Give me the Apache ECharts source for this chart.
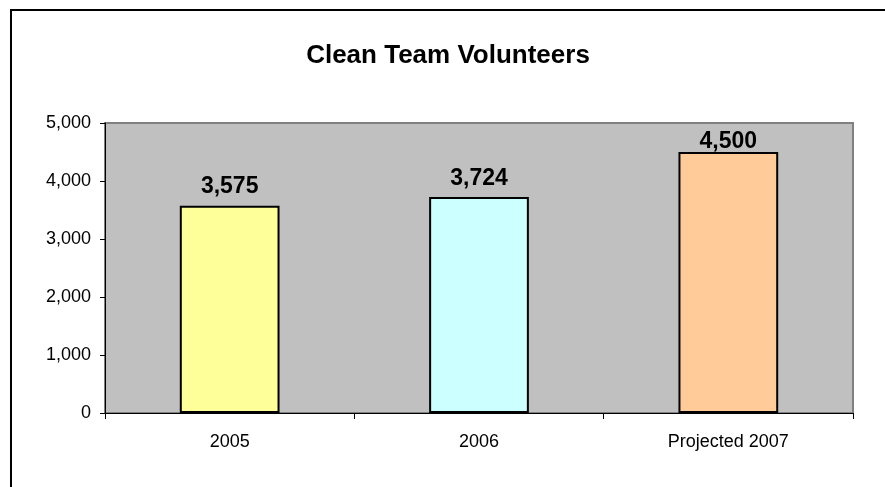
<!DOCTYPE html>
<html>
<head>
<meta charset="utf-8">
<script src="https://cdn.jsdelivr.net/npm/echarts@6/dist/echarts.min.js"></script>
<style>
    html, body { margin: 0; padding: 0; background: #fff; }
    #wrap { position: relative; width: 885px; height: 487px; overflow: hidden; }
    #chart { position: absolute; left: 0; top: 0; width: 885px; height: 487px; }
    #frame {
        position: absolute; left: 10px; top: 9px; width: 900px; height: 500px;
        border-left: 2px solid #000; border-top: 2px solid #000; pointer-events: none;
    }
</style>
</head>
<body>
<div id="wrap">
    <div id="chart"></div>
    <div id="frame"></div>
</div>
<script>
// chart data
var categories = ['2005', '2006', 'Projected 2007'];
var volunteers = [3575, 3724, 4500];
var barColors = ['#FFFF99', '#CCFFFF', '#FFCC99'];
var labelGaps = [7, 7, -1];

var FONT = '"Liberation Sans", Arial, sans-serif';

var chart = echarts.init(document.getElementById('chart'));

var barData = volunteers.map(function (v, i) {
    return {
        value: v,
        itemStyle: { color: barColors[i] },
        label: { distance: labelGaps[i] }
    };
});

var option = {
    animation: false,
    title: {
        text: 'Clean Team Volunteers',
        left: 443,
        top: 38,
        textAlign: 'center',
        textStyle: { fontFamily: FONT, fontSize: 26, fontWeight: 'bold', color: '#000' }
    },
    grid: {
        show: true,
        left: 105,
        right: 32,
        top: 123,
        bottom: 74,
        backgroundColor: '#C0C0C0',
        borderColor: '#808080',
        borderWidth: 2
    },
    xAxis: {
        type: 'category',
        data: categories,
        axisLine: { lineStyle: { color: '#000', width: 1 } },
        axisTick: { show: true, length: 6, alignWithLabel: false, lineStyle: { color: '#000' } },
        axisLabel: { fontFamily: FONT, fontSize: 18, color: '#000', margin: 20 },
        splitLine: { show: false }
    },
    yAxis: {
        type: 'value',
        min: 0,
        max: 5000,
        interval: 1000,
        axisLine: { show: true, lineStyle: { color: '#000', width: 1 } },
        axisTick: { show: true, length: 5, lineStyle: { color: '#000' } },
        axisLabel: {
            fontFamily: FONT, fontSize: 18, color: '#000', margin: 14,
            formatter: function (v) { return v.toLocaleString('en-US'); }
        },
        splitLine: { show: false }
    },
    series: [
        {
            type: 'bar',
            data: barData,
            barWidth: '40%',
            itemStyle: { borderColor: '#000', borderWidth: 2 },
            label: {
                show: true,
                position: 'top',
                fontFamily: FONT,
                fontSize: 23,
                fontWeight: 'bold',
                color: '#000',
                formatter: function (p) { return p.value.toLocaleString('en-US'); }
            }
        }
    ]
};

chart.setOption(option);
</script>
</body>
</html>
